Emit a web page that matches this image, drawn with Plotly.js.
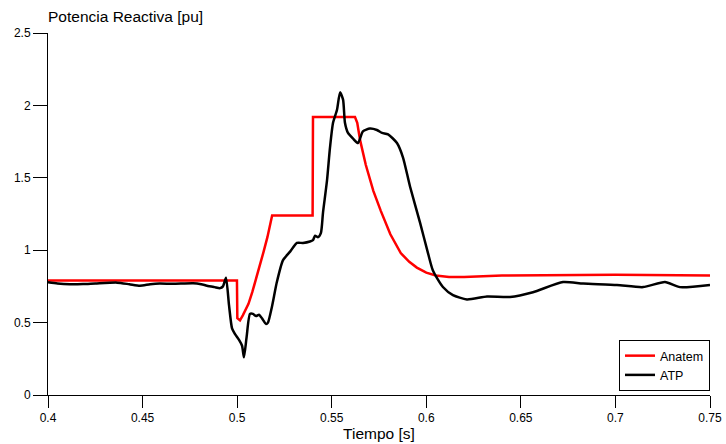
<!DOCTYPE html>
<html>
<head>
<meta charset="utf-8">
<script src="https://cdn.plot.ly/plotly-3.0.1.min.js"></script>
<style>html,body{margin:0;padding:0;background:#fff;}#chart{width:726px;height:444px;}</style>
</head>
<body>
<div id="chart"></div>
<script>
// Anatem series
const anatemTime = [0.400, 0.4999, 0.5001, 0.5015, 0.503, 0.506, 0.508, 0.510, 0.512, 0.514, 0.516, 0.5175, 0.5185, 0.5399, 0.5401, 0.5623, 0.5635, 0.565, 0.568, 0.572, 0.576, 0.581, 0.5865, 0.591, 0.595, 0.600, 0.605, 0.612, 0.620, 0.640, 0.700, 0.750];
const anatemQ    = [0.79, 0.79, 0.53, 0.515, 0.55, 0.63, 0.71, 0.80, 0.89, 0.99, 1.09, 1.18, 1.24, 1.24, 1.92, 1.92, 1.88, 1.76, 1.59, 1.41, 1.27, 1.11, 0.98, 0.92, 0.88, 0.845, 0.826, 0.815, 0.815, 0.825, 0.83, 0.825];

// ATP series
const atpTime = [0.400, 0.405, 0.4115, 0.4185, 0.425, 0.4365, 0.443, 0.4486, 0.454, 0.459, 0.466, 0.4767, 0.481, 0.484, 0.488, 0.491, 0.4925, 0.4941, 0.4957, 0.4973, 0.4989, 0.501, 0.5026, 0.5036, 0.505, 0.5068, 0.5084, 0.510, 0.5116, 0.5131, 0.5153, 0.5163, 0.5184, 0.521, 0.5242, 0.528, 0.5316, 0.5348, 0.5385, 0.5401, 0.5412, 0.5428, 0.5443, 0.5454, 0.5475, 0.5491, 0.5507, 0.5528, 0.5544, 0.556, 0.557, 0.5586, 0.5613, 0.5639, 0.5665, 0.5702, 0.5739, 0.5766, 0.5798, 0.5845, 0.5877, 0.5914, 0.5967, 0.6009, 0.6035, 0.6088, 0.6141, 0.6215, 0.6321, 0.6443, 0.6564, 0.6723, 0.6829, 0.7008, 0.7146, 0.7262, 0.7341, 0.750];
const atpQ    = [0.778, 0.77, 0.765, 0.766, 0.77, 0.776, 0.765, 0.755, 0.765, 0.77, 0.768, 0.772, 0.765, 0.755, 0.745, 0.738, 0.75, 0.81, 0.62, 0.46, 0.42, 0.38, 0.34, 0.26, 0.40, 0.56, 0.56, 0.545, 0.555, 0.53, 0.49, 0.50, 0.61, 0.78, 0.93, 0.99, 1.05, 1.05, 1.06, 1.07, 1.10, 1.09, 1.12, 1.26, 1.48, 1.71, 1.88, 1.97, 2.09, 2.04, 1.88, 1.81, 1.77, 1.74, 1.82, 1.84, 1.83, 1.81, 1.80, 1.74, 1.64, 1.44, 1.19, 0.98, 0.86, 0.746, 0.69, 0.66, 0.68, 0.677, 0.71, 0.78, 0.77, 0.76, 0.745, 0.78, 0.745, 0.76];

const xTicks = [0.4, 0.45, 0.5, 0.55, 0.6, 0.65, 0.7, 0.75];
const xTickText = ["0.4", "0.45", "0.5", "0.55", "0.6", "0.65", "0.7", "0.75"];
const yTicks = [0, 0.5, 1, 1.5, 2, 2.5];
const yTickText = ["0", "0.5", "1", "1.5", "2", "2.5"];

const font = "Liberation Sans, Arial, sans-serif";

const traces = [
  {x: anatemTime, y: anatemQ, name: "Anatem", mode: "lines", line: {color: "#ff0000", width: 2.5}},
  {x: atpTime, y: atpQ, name: "ATP", mode: "lines", line: {color: "#000000", width: 2.5, shape: "spline", smoothing: 0.6}}
];

const layout = {
  width: 726, height: 444,
  margin: {l: 48, r: 16, t: 33, b: 49},
  paper_bgcolor: "#fff", plot_bgcolor: "#fff",
  font: {family: font, size: 12, color: "#000"},
  showlegend: true,
  title: {text: "Potencia Reactiva [pu]", x: 48/726, xref: "container", xanchor: "left", y: 1 - 17/444, yref: "container", yanchor: "middle", font: {family: font, size: 15.5, color: "#000"}},
  xaxis: {
    range: [0.4, 0.75], tickvals: xTicks, ticktext: xTickText,
    showgrid: false, zeroline: false, showline: true, linecolor: "#000", linewidth: 1,
    ticks: "outside", ticklen: 12, tickcolor: "#000", tickwidth: 1,
    tickfont: {family: font, size: 12, color: "#000"},
    title: {text: "Tiempo [s]", font: {family: font, size: 15.5, color: "#000"}, standoff: 1},
    automargin: false
  },
  yaxis: {
    range: [0, 2.5], tickvals: yTicks, ticktext: yTickText,
    showgrid: false, zeroline: false, showline: true, linecolor: "#000", linewidth: 1,
    ticks: "outside", ticklen: 14, tickcolor: "#000", tickwidth: 1,
    tickfont: {family: font, size: 12, color: "#000"},
    automargin: false
  },
  legend: {
    x: 1, xanchor: "right", y: 0.011, yanchor: "bottom",
    bgcolor: "#fff", bordercolor: "#000", borderwidth: 1,
    font: {family: font, size: 12.5, color: "#000"},
    itemwidth: 30, tracegroupgap: 0
  }
};

Plotly.newPlot("chart", traces, layout, {displayModeBar: false, staticPlot: true});
</script>
</body>
</html>
